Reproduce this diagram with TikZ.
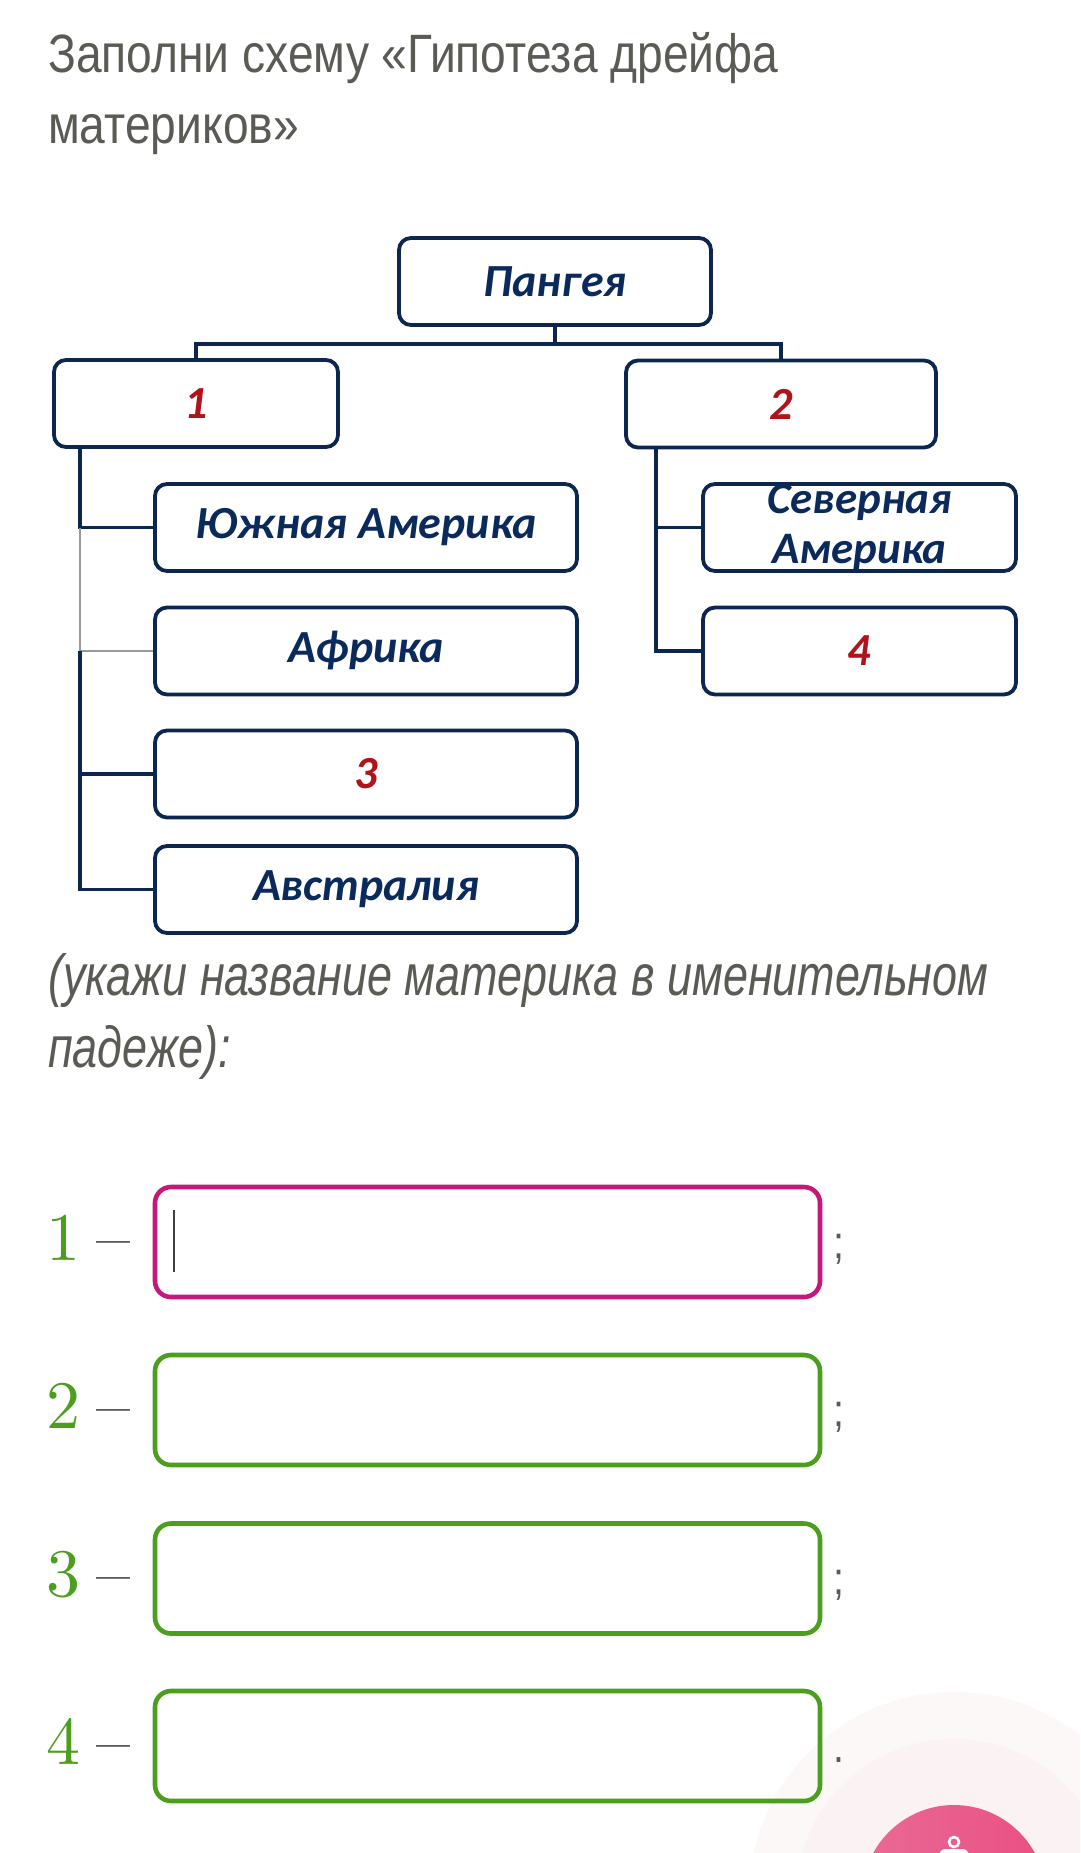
\documentclass[tikz,border=0pt]{standalone}
\usepackage{fontspec}
\newfontfamily\headfont[FakeStretch=0.855]{Liberation Sans}
\newfontfamily\hintfont[FakeStretch=0.775]{Liberation Sans}
\newfontfamily\boxfont{Carlito}
\newfontfamily\digitfont{lmroman10-regular}[Extension=.otf, Ligatures=TeX]
\definecolor{navy}{HTML}{0C2650}
\definecolor{navytext}{HTML}{0B2A5C}
\definecolor{numred}{HTML}{B0141B}
\definecolor{headgray}{HTML}{5A5B54}
\definecolor{dashgray}{HTML}{3A3A3A}
\definecolor{ansgreen}{HTML}{4C9E1E}
\definecolor{anspink}{HTML}{C4187A}
\definecolor{pinkL}{HTML}{E96A95}
\definecolor{pinkR}{HTML}{EA4F84}
\definecolor{haloA}{HTML}{FDF8F8}
\definecolor{haloB}{HTML}{FBF2F3}
\tikzset{
  block/.style={draw=navy, line width=3.8pt, rounded corners=12pt, minimum height=87pt,
    inner sep=0pt, align=center, text=navytext,
    font=\boxfont\bfseries\itshape\fontsize{46}{52}\selectfont},
  numblock/.style={block, text=numred},
  link/.style={draw=navy, line width=3.8pt},
  thinlink/.style={draw=gray!80, line width=1.3pt},
  headtext/.style={anchor=base west, inner sep=0pt, text=headgray,
    font=\headfont\fontsize{54}{60}\selectfont},
  hinttext/.style={anchor=base west, inner sep=0pt, text=headgray,
    font=\hintfont\itshape\fontsize{58}{64}\selectfont},
  ansbox/.style={draw=ansgreen, line width=4.6pt, rounded corners=16pt,
    minimum width=665pt, minimum height=110pt, inner sep=0pt},
  anslabel/.style={anchor=base west, inner sep=0pt, font=\digitfont\fontsize{68}{70}\selectfont},
  punct/.style={anchor=base west, inner sep=0pt, text=headgray,
    font=\headfont\fontsize{46}{50}\selectfont}
}
\begin{document}
\begin{tikzpicture}[x=1pt,y=-1pt]
%picture
\useasboundingbox (0,0) rectangle (1080,1853);
\begin{scope}
\clip (0,0) rectangle (1080,1853);
\fill[white] (0,0) rectangle (1080,1853);
\node[headtext] (head1) at (48,72) {Заполни схему «Гипотеза дрейфа};
\node[headtext] (head2) at (48,143) {материков»};
% scheme
\node[block, minimum width=312pt] (pangea) at (555,281.5) {Пангея};
\node[numblock, minimum width=284pt] (grp1) at (196,403.5) {1};
\node[numblock, minimum width=310pt] (grp2) at (781,404) {2};
\node[block, minimum width=422pt] (sam) at (366,527.5) {Южная Америка};
\node[block, minimum width=422pt] (afr) at (366,651) {Африка};
\node[numblock, minimum width=422pt] (cont3) at (366,774) {3};
\node[block, minimum width=422pt] (aus) at (366,889.5) {Австралия};
\node[block, minimum width=313pt, font=\boxfont\bfseries\itshape\fontsize{45}{50}\selectfont] (nam) at (859.5,527.5) {Северная\\Америка};
\node[numblock, minimum width=313pt] (cont4) at (859.5,651) {4};
\draw[link] (pangea.south) -- ++(0,17) -| (grp1.north);
\draw[link] (pangea.south) ++(0,17) -| (grp2.north);
\coordinate (ltrunk) at ([xshift=28pt]grp1.south west);
\coordinate (rtrunk) at ([xshift=32pt]grp2.south west);
\draw[link] (ltrunk) |- (sam.west);
\draw[thinlink] (ltrunk |- sam.west) |- (afr.west);
\draw[link] (ltrunk |- afr.west) |- (aus.west);
\draw[link] (ltrunk |- cont3.west) -- (cont3.west);
\draw[link] (rtrunk) |- (cont4.west);
\draw[link] (rtrunk |- nam.west) -- (nam.west);
% hint
\node[hinttext] (hint1) at (48,995) {(укажи название материка в именительном};
\node[hinttext] (hint2) at (48,1067) {падеже):};
% answers
\fill[haloA] (954,1897) circle [radius=205pt];
\fill[haloB] (954,1897) circle [radius=158pt];
\node[ansbox, draw=anspink] (ans1) at (487.5,1242) {};
\node[ansbox] (ans2) at (487.5,1410) {};
\node[ansbox] (ans3) at (487.5,1578.5) {};
\node[ansbox] (ans4) at (487.5,1746) {};
\draw[line width=1.6pt, color=darkgray] ([xshift=21pt,yshift=32pt]ans1.west) -- ([xshift=21pt,yshift=-30pt]ans1.west);
\foreach \i/\p in {1/;,2/;,3/;,4/.}{
  \node[anslabel] (lab\i) at (46,1260+168*\i-168) {\textcolor{ansgreen}{\i}\hspace{16pt}\textcolor{dashgray}{–}};
  \node[punct] (end\i) at (833,1258+168*\i-168) {\p};
}
% button
\shade[left color=pinkL, right color=pinkR] (954,1897) circle [radius=92pt];
\draw[white, line width=2.6pt] (954,1842) circle [radius=5pt];
\fill[white, rounded corners=3pt] (934,1862) -- (942,1849) -- (966,1849) -- (974,1862) -- cycle;
\end{scope}
\end{tikzpicture}
\end{document}
